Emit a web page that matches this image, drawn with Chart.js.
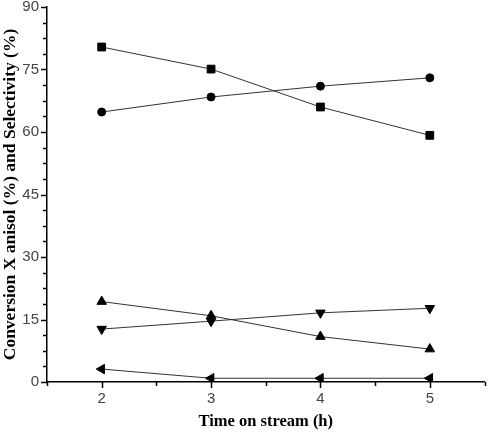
<!DOCTYPE html>
<html>
<head>
<meta charset="utf-8">
<script src="https://cdn.jsdelivr.net/npm/chart.js@4.4.1/dist/chart.umd.min.js"></script>
<style>
  html, body { margin:0; padding:0; background:#fff; }
  #wrap { width:491px; height:432px; }
</style>
</head>
<body>
<div id="wrap"><canvas id="chart"></canvas></div>
<script>
// data
const hours = [2, 3, 4, 5];
const squareVals = [80.4, 75.1, 66.0, 59.2];
const circleVals = [64.8, 68.4, 71.0, 73.0];
const upTriVals = [19.3, 15.9, 10.9, 7.9];
const downTriVals = [12.7, 14.6, 16.6, 17.7];
const leftTriVals = [3.1, 0.9, 0.9, 0.9];
const yLabelTicks = [0, 15, 30, 45, 60, 75, 90];
const xLabelTicks = [2, 3, 4, 5];

const pts = vals => hours.map((h, i) => ({ x: h, y: vals[i] }));

function series(vals, style, radius, rotation) {
  return {
    data: pts(vals),
    borderColor: '#333',
    borderWidth: 1,
    pointStyle: style,
    pointRadius: radius,
    pointRotation: rotation || 0,
    pointBackgroundColor: '#000',
    pointBorderColor: '#000',
    pointBorderWidth: 1,
    showLine: true,
    tension: 0
  };
}

// draws major + minor tick marks outside the axes
const tickMarks = {
  id: 'tickMarks',
  afterDraw(chart) {
    const ctx = chart.ctx;
    const xs = chart.scales.x, ys = chart.scales.y;
    ctx.save();
    ctx.strokeStyle = '#000';
    ctx.lineWidth = 1.5;
    xs.ticks.forEach(t => {
      const px = Math.round(xs.getPixelForValue(t.value)) + 0.5;
      const len = xLabelTicks.includes(t.value) ? 6 : 4;
      ctx.beginPath(); ctx.moveTo(px, xs.top); ctx.lineTo(px, xs.top + len); ctx.stroke();
    });
    ys.ticks.forEach(t => {
      const py = Math.round(ys.getPixelForValue(t.value)) + 0.5;
      const len = yLabelTicks.includes(t.value) ? 6 : 4;
      ctx.beginPath(); ctx.moveTo(ys.right, py); ctx.lineTo(ys.right - len, py); ctx.stroke();
    });
    ctx.restore();
  }
};

new Chart(document.getElementById('chart'), {
  type: 'scatter',
  data: {
    datasets: [
      series(squareVals, 'rect', 5.5),
      series(circleVals, 'circle', 4),
      series(upTriVals, 'triangle', 5.5),
      series(downTriVals, 'triangle', 5.5, 180),
      series(leftTriVals, 'triangle', 5.5, -90)
    ]
  },
  options: {
    responsive: true,
    maintainAspectRatio: false,
    animation: false,
    layout: { padding: { top: 7, right: 2, left: 0, bottom: 0 } },
    plugins: { legend: { display: false }, tooltip: { enabled: false } },
    scales: {
      x: {
        type: 'linear',
        min: 1.5,
        max: 5.5,
        afterFit: s => { s.height = 50; s.paddingRight = 0; },
        ticks: {
          stepSize: 0.5,
          autoSkip: false,
          maxRotation: 0,
          padding: 2,
          color: '#444',
          font: { family: 'Liberation Sans', size: 15 },
          callback: v => xLabelTicks.includes(v) ? String(v) : ''
        },
        grid: { display: false, drawTicks: true, tickLength: 6 },
        border: { display: true, color: '#000', width: 1.5 },
        title: {
          display: true,
          text: 'Time on stream (h)',
          color: '#000',
          font: { family: 'Liberation Serif', size: 16.5, weight: 'bold' },
          padding: { top: 7, bottom: 0 }
        }
      },
      y: {
        min: 0,
        max: 90,
        afterFit: s => { s.width = 47; s.paddingTop = 0; s.paddingBottom = 0; },
        ticks: {
          stepSize: 3.75,
          autoSkip: false,
          padding: 2,
          color: '#444',
          font: { family: 'Liberation Sans', size: 15 },
          callback: v => yLabelTicks.includes(v) ? String(v) : ''
        },
        grid: { display: false, drawTicks: true, tickLength: 6 },
        border: { display: true, color: '#000', width: 1.5 },
        title: {
          display: true,
          text: 'Conversion X anisol (%) and Selectivity (%)',
          color: '#000',
          font: { family: 'Liberation Serif', size: 17.5, weight: 'bold' },
          padding: { top: 0, bottom: 0 }
        }
      }
    }
  },
  plugins: [tickMarks]
});
</script>
</body>
</html>
